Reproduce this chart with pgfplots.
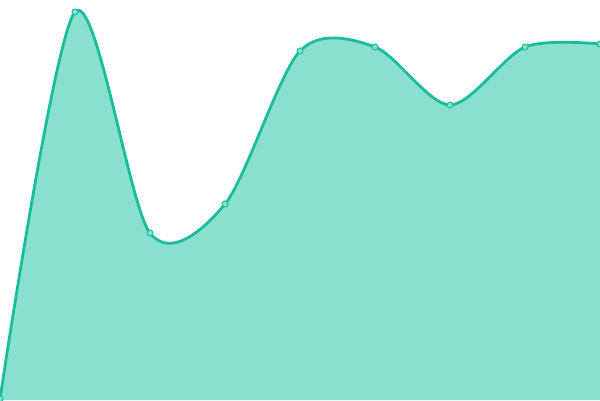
\documentclass[border=0pt]{standalone}
\usepackage{pgfplots}
\pgfplotsset{compat=1.18}
\definecolor{lineC}{HTML}{1ABC9C}
\definecolor{fillC}{HTML}{8AE0CE}
\pgfplotstableread{
x y
0 1
75 388
150 167
225 196
300 349
375 353
450 295
525 353
600 356
}\series
\begin{document}
\begin{tikzpicture}
\begin{axis}[
  scale only axis, width=600bp, height=400bp,
  xmin=0, xmax=600, ymin=0, ymax=400,
  hide axis, clip=false,
]
% area below the curve, no outline
\addplot[draw=none, fill=fillC, smooth, tension=0.5] table {\series} \closedcycle;
% the curve and its points
\addplot[draw=lineC, line width=2.8bp, smooth, tension=0.5,
  mark=*, mark size=3bp,
  mark options={fill=fillC, draw=lineC, line width=1bp}]
  table {\series};
\end{axis}
\pgfresetboundingbox
\path (current axis.south west) rectangle (current axis.north east);
\end{tikzpicture}
\end{document}
